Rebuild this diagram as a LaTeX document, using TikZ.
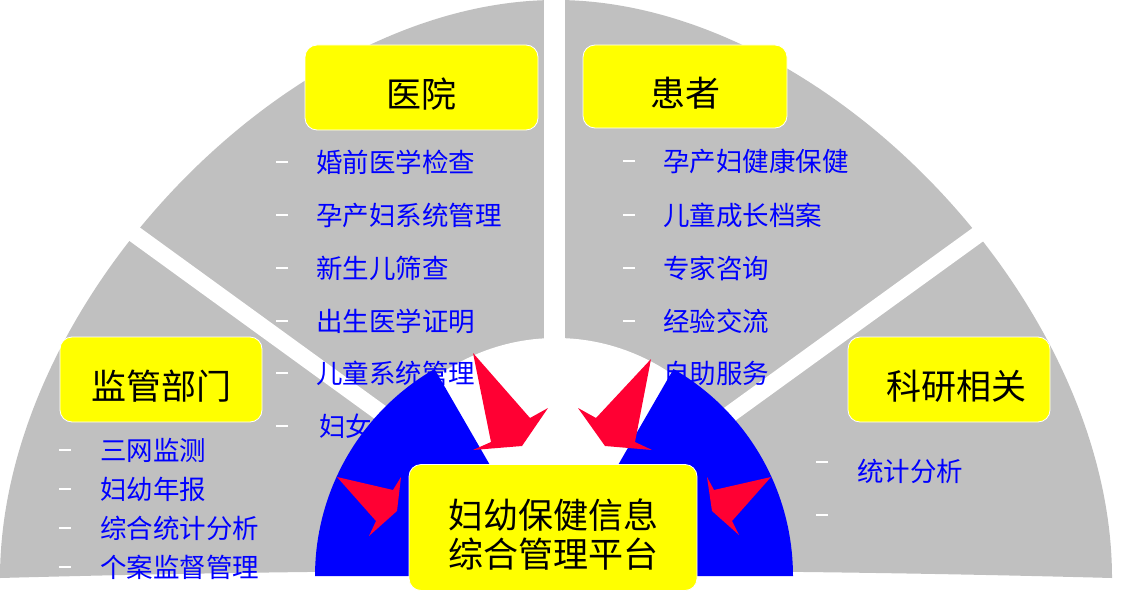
\documentclass[tikz,border=0pt]{standalone}
\usepackage{fontspec}
\newfontfamily\cjk{Noto Sans CJK SC}
\usetikzlibrary{positioning}

\definecolor{fangrey}{RGB}{192,192,192}
\definecolor{ringblue}{RGB}{0,0,255}
\definecolor{dartred}{RGB}{255,0,51}
\definecolor{headyellow}{RGB}{255,255,0}

\begin{document}
\begin{tikzpicture}[x=1pt, y=-1pt,
    head/.style={rectangle, draw=white, line width=0.8pt, rounded corners=12pt,
        fill=headyellow, inner sep=0pt, font=\cjk\fontsize{35}{39}\selectfont},
    onehead/.style={head, text height=44pt, text depth=4pt},
    duty/.style={anchor=west, inner sep=0pt, text=ringblue,
        font=\cjk\fontsize{26.5}{30}\selectfont},
    tick/.style={white, line width=1.2pt},
    gap/.style={white, line width=17pt},
    dart/.style={fill=dartred},
  ]
  \useasboundingbox (0,0) rectangle (1131,599);

  % grey fan, cut into four parts
  \fill[fangrey] (0,578) .. controls (0,301) and (289,0) .. (556,0)
    .. controls (823,0) and (1112,301) .. (1112,578)
    .. controls (740,568) and (370,568) .. (0,578) -- cycle;
  \draw[gap] (556,540) -- (20,151);
  \draw[gap] (556,540) -- (1092,152);
  \draw[gap, line width=21pt] (554,540) -- (554,-10);
  \fill[white] (556,578) ellipse [x radius=220, y radius=240];

  % hospital tasks
  \node[duty] (h1) at (316,162) {婚前医学检查};
  \node[duty] (h2) at (316,215) {孕产妇系统管理};
  \node[duty] (h3) at (316,268) {新生儿筛查};
  \node[duty] (h4) at (316,321) {出生医学证明};
  \node[duty] (h5) at (316,373) {儿童系统管理};
  \node[duty] (h6) at (319,426) {妇女病普查};
  \draw[tick] ([xshift=-40pt]h1.west) -- ([xshift=-28pt]h1.west);
  \draw[tick] ([xshift=-40pt]h2.west) -- ([xshift=-28pt]h2.west);
  \draw[tick] ([xshift=-40pt]h3.west) -- ([xshift=-28pt]h3.west);
  \draw[tick] ([xshift=-40pt]h4.west) -- ([xshift=-28pt]h4.west);
  \draw[tick] ([xshift=-40pt]h5.west) -- ([xshift=-28pt]h5.west);
  \draw[tick] ([xshift=-43pt]h6.west) -- ([xshift=-31pt]h6.west);

  % patient tasks
  \node[duty] (p1) at (663,161) {孕产妇健康保健};
  \node[duty] (p2) at (663,215) {儿童成长档案};
  \node[duty] (p3) at (663,268) {专家咨询};
  \node[duty] (p4) at (663,321) {经验交流};
  \node[duty] (p5) at (663,373) {自助服务};
  \draw[tick] ([xshift=-40pt]p1.west) -- ([xshift=-28pt]p1.west);
  \draw[tick] ([xshift=-40pt]p2.west) -- ([xshift=-28pt]p2.west);
  \draw[tick] ([xshift=-40pt]p3.west) -- ([xshift=-28pt]p3.west);
  \draw[tick] ([xshift=-40pt]p4.west) -- ([xshift=-28pt]p4.west);
  \draw[tick] ([xshift=-40pt]p5.west) -- ([xshift=-28pt]p5.west);

  % supervision tasks
  \node[duty] (r1) at (100,450) {三网监测};
  \node[duty] (r2) at (100,489) {妇幼年报};
  \node[duty] (r3) at (100,528) {综合统计分析};
  \node[duty] (r4) at (100,567) {个案监督管理};
  \draw[tick] ([xshift=-41pt]r1.west) -- ([xshift=-29pt]r1.west);
  \draw[tick] ([xshift=-41pt]r2.west) -- ([xshift=-29pt]r2.west);
  \draw[tick] ([xshift=-41pt]r3.west) -- ([xshift=-29pt]r3.west);
  \draw[tick] ([xshift=-41pt]r4.west) -- ([xshift=-29pt]r4.west);

  % research tasks
  \node[duty] (s1) at (857,471) {统计分析};
  \draw[tick] (816,462) -- (828,462);
  \draw[tick] (816,515) -- (828,515);

  % blue half ring
  \fill[ringblue] (554,576) -- plot[domain=180:120, samples=40]
    ({554+239*cos(\x)}, {576-239*sin(\x)}) -- cycle;
  \fill[ringblue] (554,576) -- plot[domain=60:0, samples=40]
    ({554+239*cos(\x)}, {576-239*sin(\x)}) -- cycle;

  % red darts pointing in
  \fill[dart] (473,353) -- (530,418) -- (548,408) -- (522,446) -- (473,450) -- (491,442) -- cycle;
  \fill[dart] (651,359) -- (635,442) -- (652,450) -- (605,446) -- (578,408) -- (596,418) -- cycle;
  \fill[dart] (337,477) -- (393,490) -- (401,477) -- (397,511) -- (369,536) -- (376,521) -- cycle;
  \fill[dart] (771,477) -- (714,490) -- (707,477) -- (712,511) -- (739,535) -- (732,521) -- cycle;

  % yellow heads
  \node[onehead, minimum width=233, minimum height=85] (hosp) at (421.5,87.5) {医院};
  \node[onehead, minimum width=204, minimum height=83] (pat)  at (685,86.5)   {患者};
  \node[onehead, minimum width=202, minimum height=85] (reg)  at (161,379.5)  {监管部门};
  \node[onehead, minimum width=202, minimum height=85] (res)  at (949,379.5)  {\hspace*{14pt}科研相关};
  \node[head, align=center, minimum width=288, minimum height=126] (hub) at (553,527.5)
    {\rule{0pt}{44pt}妇幼保健信息\\综合管理平台};
\end{tikzpicture}
\end{document}
